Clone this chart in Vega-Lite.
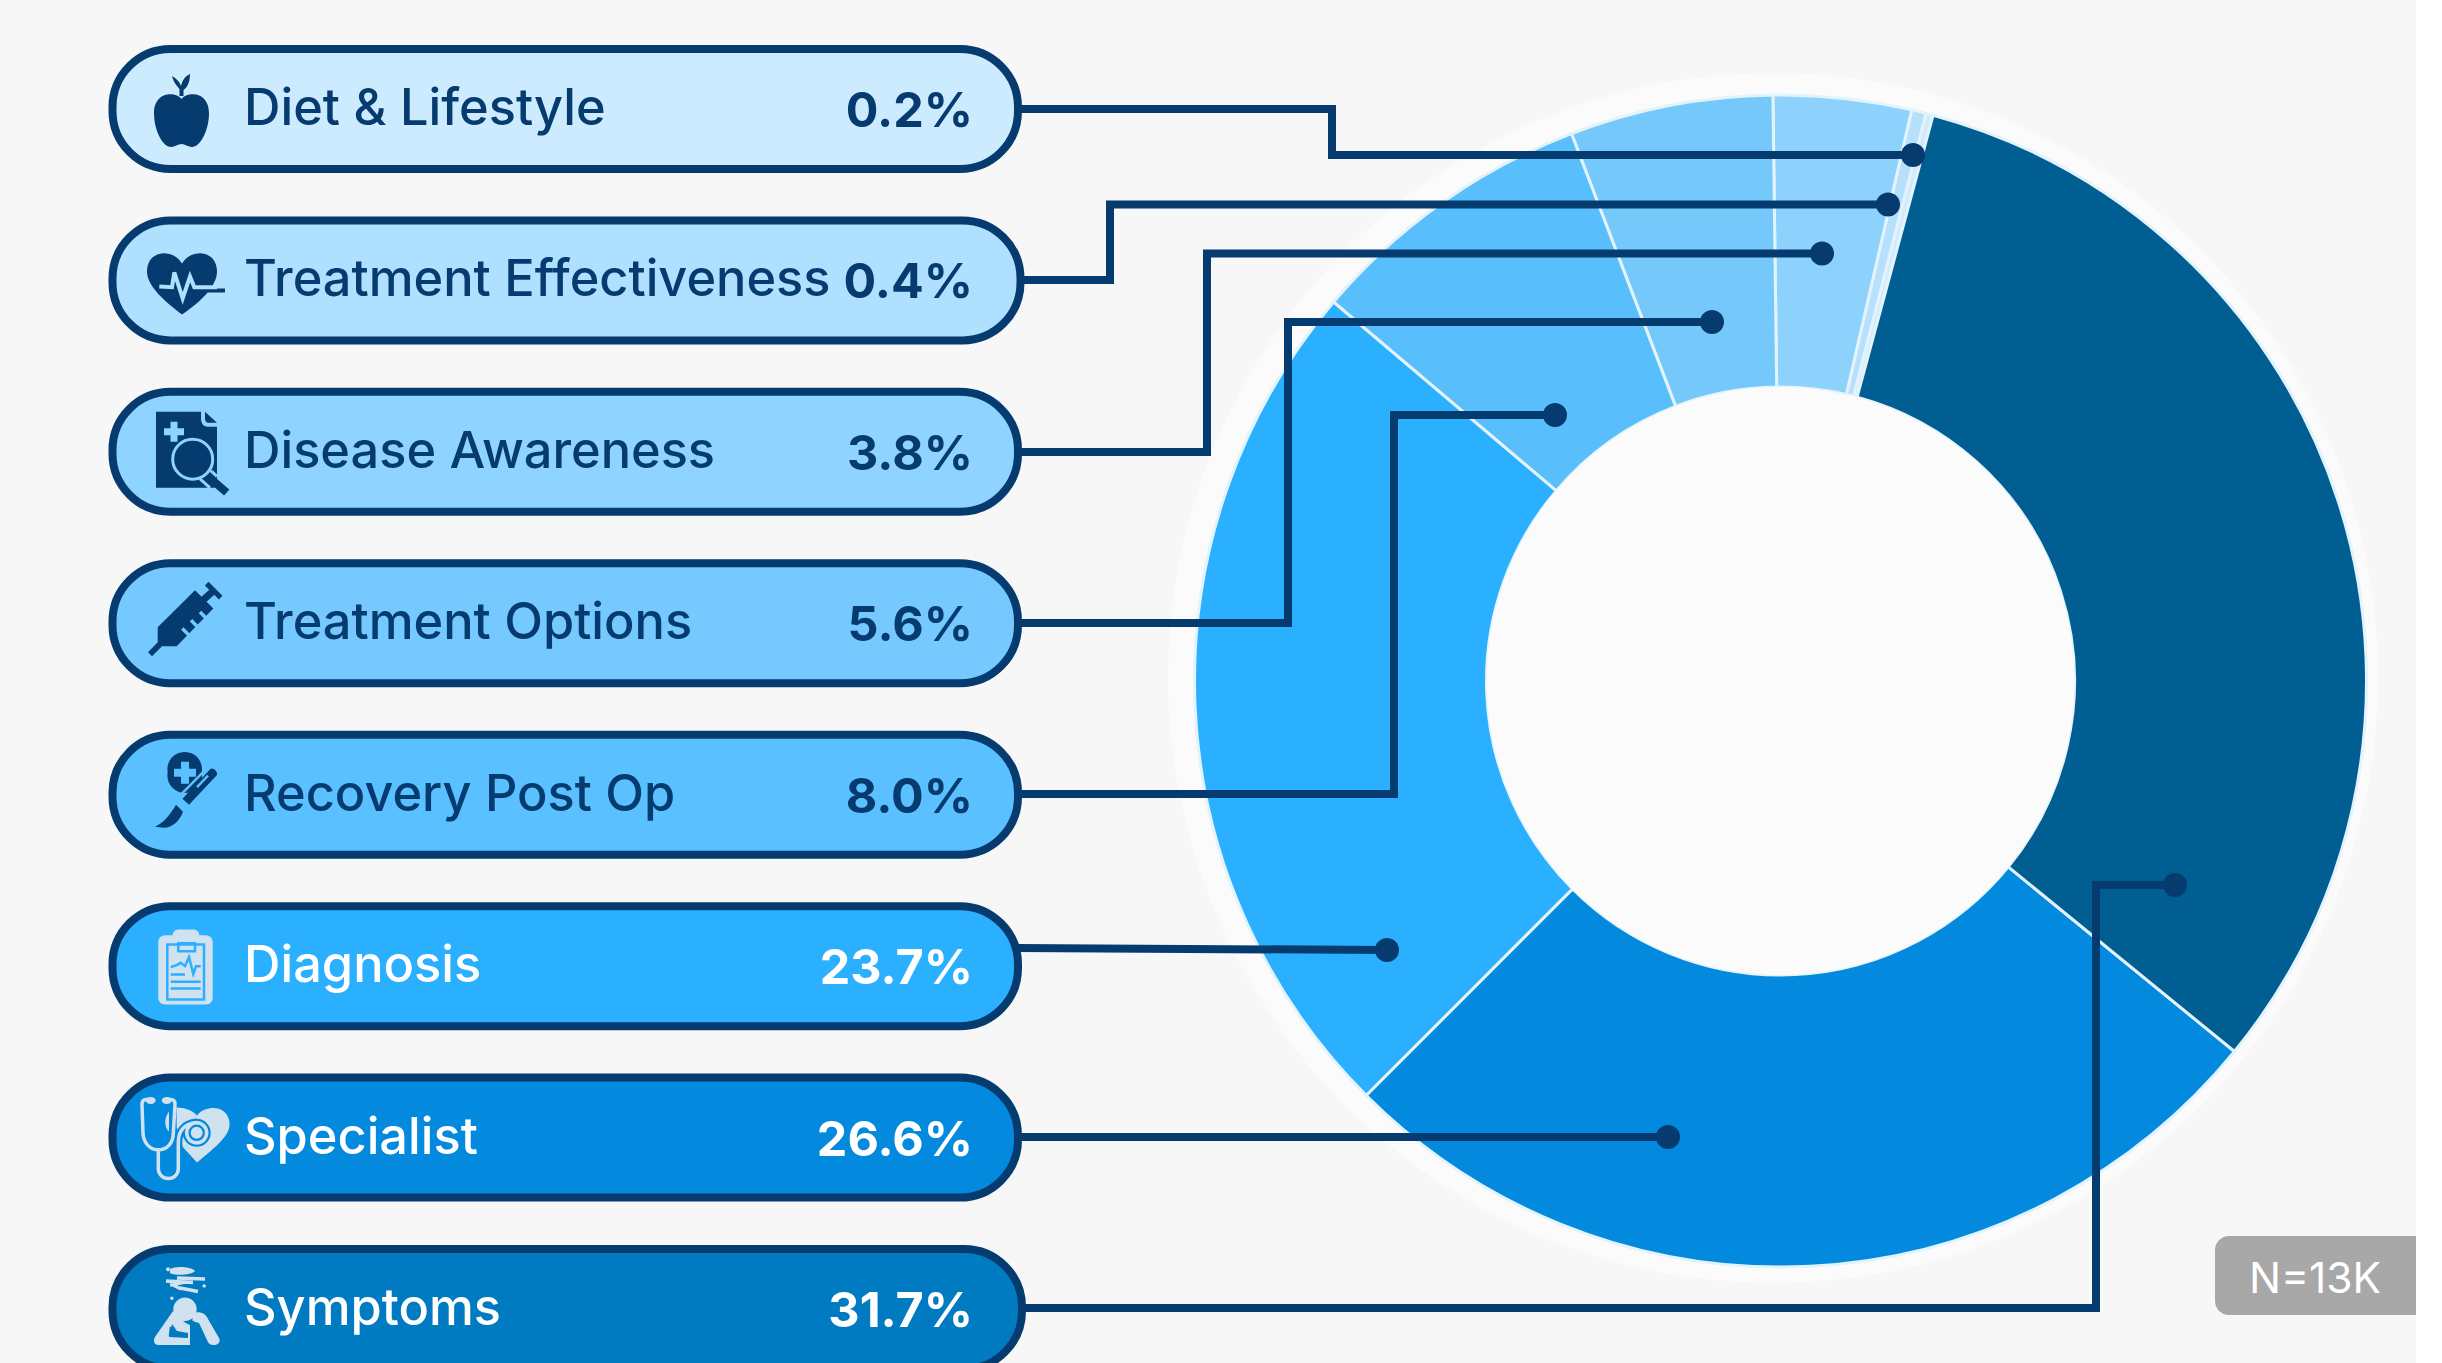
{
  "$schema": "https://vega.github.io/schema/vega-lite/v6.json",
  "width": 2442,
  "height": 1363,
  "padding": 0,
  "autosize": {"type": "none"},
  "background": "#ffffff",
  "config": {"view": {"stroke": null}},
  "datasets": {
    "topics": [
      {"topic": "Diet & Lifestyle", "share": 0.002},
      {"topic": "Treatment Effectiveness", "share": 0.004},
      {"topic": "Disease Awareness", "share": 0.038},
      {"topic": "Treatment Options", "share": 0.056},
      {"topic": "Recovery Post Op", "share": 0.08},
      {"topic": "Diagnosis", "share": 0.237},
      {"topic": "Specialist", "share": 0.266},
      {"topic": "Symptoms", "share": 0.317}
    ],
    "leaders": [
      {"topic": "Diet & Lifestyle", "step": 1, "px": 1015, "py": 109},
      {"topic": "Diet & Lifestyle", "step": 2, "px": 1332, "py": 109},
      {"topic": "Diet & Lifestyle", "step": 3, "px": 1332, "py": 155},
      {"topic": "Diet & Lifestyle", "step": 4, "px": 1913, "py": 155, "anchor": true},
      {"topic": "Treatment Effectiveness", "step": 1, "px": 1015, "py": 280},
      {"topic": "Treatment Effectiveness", "step": 2, "px": 1110, "py": 280},
      {"topic": "Treatment Effectiveness", "step": 3, "px": 1110, "py": 204.5},
      {"topic": "Treatment Effectiveness", "step": 4, "px": 1888, "py": 204.5, "anchor": true},
      {"topic": "Disease Awareness", "step": 1, "px": 1015, "py": 452},
      {"topic": "Disease Awareness", "step": 2, "px": 1207, "py": 452},
      {"topic": "Disease Awareness", "step": 3, "px": 1207, "py": 253.5},
      {"topic": "Disease Awareness", "step": 4, "px": 1822, "py": 253.5, "anchor": true},
      {"topic": "Treatment Options", "step": 1, "px": 1015, "py": 623},
      {"topic": "Treatment Options", "step": 2, "px": 1288, "py": 623},
      {"topic": "Treatment Options", "step": 3, "px": 1288, "py": 322},
      {"topic": "Treatment Options", "step": 4, "px": 1712, "py": 322, "anchor": true},
      {"topic": "Recovery Post Op", "step": 1, "px": 1015, "py": 794},
      {"topic": "Recovery Post Op", "step": 2, "px": 1394, "py": 794},
      {"topic": "Recovery Post Op", "step": 3, "px": 1394, "py": 415},
      {"topic": "Recovery Post Op", "step": 4, "px": 1555, "py": 415, "anchor": true},
      {"topic": "Diagnosis", "step": 1, "px": 1015, "py": 948},
      {"topic": "Diagnosis", "step": 2, "px": 1387, "py": 950, "anchor": true},
      {"topic": "Specialist", "step": 1, "px": 1015, "py": 1137},
      {"topic": "Specialist", "step": 2, "px": 1668, "py": 1137, "anchor": true},
      {"topic": "Symptoms", "step": 1, "px": 1015, "py": 1308},
      {"topic": "Symptoms", "step": 2, "px": 2096, "py": 1308},
      {"topic": "Symptoms", "step": 3, "px": 2096, "py": 885},
      {"topic": "Symptoms", "step": 4, "px": 2175, "py": 885, "anchor": true}
    ]
  },
  "resolve": {"scale": {"y": "independent", "color": "independent"}},
  "layer": [
    {
      "data": {"values": [{}]},
      "mark": {"type": "rect", "fill": "#f7f7f7"},
      "encoding": {
        "x": {"value": 0}, "x2": {"value": 2416},
        "y": {"value": 0}, "y2": {"value": 1363}
      }
    },
    {
      "data": {"values": [{}]},
      "mark": {"type": "arc", "radius": 605, "theta": 0, "theta2": 6.2832, "fill": "#fbfbfb"},
      "encoding": {"x": {"value": 1773}, "y": {"value": 678}}
    },
    {
      "data": {"name": "topics"},
      "mark": {"type": "arc", "radius": 586, "radius2": 294, "stroke": "#e3f3fc", "strokeWidth": 3},
      "encoding": {
        "x": {"value": 1780.5},
        "y": {"value": 681},
        "theta": {
          "field": "share", "type": "quantitative", "stack": true,
          "scale": {"domain": [0, 1], "range": [0.2635, 6.5467]}
        },
        "order": {"field": "share", "sort": "descending"},
        "color": {
          "field": "topic", "type": "nominal", "legend": null,
          "scale": {
            "domain": ["Diet & Lifestyle", "Treatment Effectiveness", "Disease Awareness", "Treatment Options", "Recovery Post Op", "Diagnosis", "Specialist", "Symptoms"],
            "range": ["#cfecff", "#b6e0fb", "#8dd2fc", "#75c9fa", "#58befc", "#2bafff", "#038ade", "#005e93"]
          }
        }
      }
    },
    {
      "data": {"values": [{}]},
      "mark": {"type": "arc", "radius": 294, "theta": 0, "theta2": 6.2832, "fill": "#fbfbfb"},
      "encoding": {"x": {"value": 1780.5}, "y": {"value": 681}}
    },
    {
      "data": {"name": "leaders"},
      "layer": [
        {
          "mark": {"type": "line", "stroke": "#053b6f", "strokeWidth": 8, "strokeJoin": "miter", "strokeCap": "butt"},
          "encoding": {
            "x": {"field": "px", "type": "quantitative", "axis": null, "scale": {"domain": [0, 2442], "nice": false, "zero": false}},
            "y": {"field": "py", "type": "quantitative", "axis": null, "scale": {"domain": [0, 1363], "reverse": true, "nice": false, "zero": false}},
            "detail": {"field": "topic"},
            "order": {"field": "step", "type": "quantitative"}
          }
        },
        {
          "transform": [{"filter": {"field": "anchor", "equal": true}}],
          "mark": {"type": "point", "filled": true, "opacity": 1, "shape": "circle", "size": 576, "color": "#053b6f"},
          "encoding": {
            "x": {"field": "px", "type": "quantitative", "axis": null},
            "y": {"field": "py", "type": "quantitative", "axis": null}
          }
        }
      ]
    },
    {
      "data": {"name": "topics"},
      "resolve": {"scale": {"shape": "independent", "strokeWidth": "independent"}},
      "layer": [
        {
          "transform": [{"filter": {"not": {"field": "topic", "oneOf": ["Treatment Effectiveness", "Symptoms"]}}}],
          "mark": {"type": "bar", "cornerRadius": 58, "stroke": "#053b6f", "strokeWidth": 8, "height": {"band": 0.7}},
          "encoding": {
            "x": {"value": 112.5},
            "x2": {"value": 1018},
            "y": {
              "field": "topic", "type": "nominal", "axis": null,
              "scale": {
                "domain": ["Diet & Lifestyle", "Treatment Effectiveness", "Disease Awareness", "Treatment Options", "Recovery Post Op", "Diagnosis", "Specialist", "Symptoms"],
                "range": [23.3, 1394.7], "paddingInner": 0, "paddingOuter": 0
              }
            },
            "color": {
              "field": "topic", "type": "nominal", "legend": null,
              "scale": {
                "domain": ["Diet & Lifestyle", "Treatment Effectiveness", "Disease Awareness", "Treatment Options", "Recovery Post Op", "Diagnosis", "Specialist", "Symptoms"],
                "range": ["#ccebff", "#b0e0ff", "#8fd3ff", "#75c9ff", "#5ac0ff", "#2bafff", "#038ade", "#007bc2"]
              }
            }
          }
        },
        {
          "transform": [{"filter": {"field": "topic", "equal": "Treatment Effectiveness"}}],
          "mark": {"type": "bar", "cornerRadius": 58, "stroke": "#053b6f", "strokeWidth": 8, "height": {"band": 0.7}},
          "encoding": {
            "x": {"value": 112.5},
            "x2": {"value": 1020.5},
            "y": {"field": "topic", "type": "nominal", "axis": null},
            "color": {"field": "topic", "type": "nominal", "legend": null}
          }
        },
        {
          "transform": [{"filter": {"field": "topic", "equal": "Symptoms"}}],
          "mark": {"type": "bar", "cornerRadius": 58, "stroke": "#053b6f", "strokeWidth": 8, "height": {"band": 0.7}},
          "encoding": {
            "x": {"value": 112.5},
            "x2": {"value": 1022},
            "y": {"field": "topic", "type": "nominal", "axis": null},
            "color": {"field": "topic", "type": "nominal", "legend": null}
          }
        },
        {
          "mark": {"type": "text", "font": "Inter", "fontSize": 50.5, "fontWeight": 500, "align": "left", "baseline": "alphabetic", "dy": 16},
          "encoding": {
            "x": {"value": 244},
            "y": {"field": "topic", "type": "nominal", "axis": null},
            "text": {"field": "topic"},
            "color": {"condition": {"test": {"field": "share", "gt": 0.1}, "value": "#ffffff"}, "value": "#053b6f"}
          }
        },
        {
          "mark": {"type": "text", "font": "Inter", "fontSize": 48.5, "fontWeight": 700, "align": "right", "baseline": "alphabetic", "dy": 18},
          "encoding": {
            "x": {"value": 973},
            "y": {"field": "topic", "type": "nominal", "axis": null},
            "text": {"field": "share", "type": "quantitative", "format": ".1%"},
            "color": {"condition": {"test": {"field": "share", "gt": 0.1}, "value": "#ffffff"}, "value": "#053b6f"}
          }
        },
        {
          "mark": {"type": "point", "filled": true, "opacity": 1, "size": 4, "strokeWidth": 0},
          "encoding": {
            "x": {"value": 186},
            "y": {"field": "topic", "type": "nominal", "axis": null},
            "shape": {
              "field": "topic", "type": "nominal", "legend": null,
              "scale": {
                "domain": ["Diet & Lifestyle", "Treatment Effectiveness", "Disease Awareness", "Treatment Options", "Recovery Post Op", "Diagnosis", "Specialist", "Symptoms"],
                "range": [
                  "M-4.5,-10 C-10,-18 -32,-18 -32,4 C-32,22 -23,38 -15,38 C-11,38 -8,35 -4.5,35 C-1,35 2,38 6,38 C14,38 23,22 23,4 C23,-18 1,-18 -4.5,-10 Z M-6.5,-13 L-6.5,-20 C-10,-24 -13,-28 -14,-33 C-9,-30 -6,-27 -5,-23 C-4,-28 -1,-33 4,-35 C4,-28 2,-22 -2.5,-19 L-2.5,-13 Z",
                  "M-4,34 C-20,22 -39,6 -39,-9 C-39,-30 -14,-33 -4,-17 C6,-33 31,-30 31,-9 C31,6 14,22 -4,34 Z M20,8 L39,8 L39,12 L20,12 Z",
                  "M-30,-40 L15,-40 L15,-33 C15,-28 18,-25 22,-25 L31,-25 L31,36 L-30,36 Z M19,-40 L31,-29 L23,-29 C20,-29 19,-31 19,-34 Z M22.6,20 L43.3,37.7 L38.1,43.7 L17.4,26 Z",
                  "M-28.3,4 L9,-33 L27.3,-14.7 L-9.3,23 L-24,23 L-34,33 L-38,29 L-28.3,19 Z M25,-35 L30,-30 L20.5,-21.5 L15.5,-26.5 Z M22.5,-41.5 L36.5,-27.5 L32.9,-23.9 L18.9,-37.9 Z",
                  "M-18.3,-22.3 A17.3,17.3 0 1 1 15.7,-22.3 A17.3,17.3 0 1 1 -18.3,-22.3 Z M24.1,-25.5 C27,-28 33,-22 30.5,-19.1 L3,10 L-3.5,4 Z M-10,10 L-3,17 C-6,26 -14,33 -22,33 L-31,32 C-22,28 -16,20 -10,10 Z",
                  "M-20.7,-31 L19.7,-31 C24,-31 26.7,-28 26.7,-24 L26.7,31.3 C26.7,35.5 24,38.3 19.7,38.3 L-20.7,38.3 C-25,38.3 -27.7,35.5 -27.7,31.3 L-27.7,-24 C-27.7,-28 -25,-31 -20.7,-31 Z M-7,-36.7 L7,-36.7 C11,-36.7 13.3,-34 13.3,-31 C13.3,-27 11,-25 7,-25 L-7,-25 C-11,-25 -13.3,-27 -13.3,-31 C-13.3,-34 -11,-36.7 -7,-36.7 Z",
                  "M-9.5,-30 C-1,-30 7,-27 11,-22 C16,-29 26,-30.5 32,-29 C40,-27 44,-20 43.5,-12 C43,0 24,14 11,25 L-3,9.7 L-9.3,-10 Z M-17,-26 C-22,-20 -22,-10 -17,-6 Z M-40.3,-37 A5,3.5 0 1 1 -30.3,-37 A5,3.5 0 1 1 -40.3,-37 Z M-24.3,-37 A5,3.5 0 1 1 -14.3,-37 A5,3.5 0 1 1 -24.3,-37 Z",
                  "M-12.7,0.3 A11.7,11.7 0 1 1 10.7,0.3 A11.7,11.7 0 1 1 -12.7,0.3 Z M-13,2 C-8,8 -2,14 4,16 L4,36 L-28,36 C-32,36 -33,32 -31,28 Z M8,4 C14,2 20,5 22,10 L33,29 C35,33 32,36 28,36 C24,36 22,34 21,31 L13,14 L6,12 Z M-16,-40 C-12,-43 5,-43 9,-38 C7,-34 -12,-33 -16,-36 Z M-20,-39.7 A2,2 0 1 1 -16,-39.7 A2,2 0 1 1 -20,-39.7 Z M16.5,-23 A1.7,1.7 0 1 1 19.9,-23 A1.7,1.7 0 1 1 16.5,-23 Z M-15.8,-10.7 A1.7,1.7 0 1 1 -12.4,-10.7 A1.7,1.7 0 1 1 -15.8,-10.7 Z"
                ]
              }
            },
            "color": {"condition": {"test": {"field": "share", "gt": 0.1}, "value": "#d0e1f0"}, "value": "#053b6f"}
          }
        },
        {
          "transform": [{"filter": {"field": "topic", "oneOf": ["Disease Awareness", "Recovery Post Op", "Symptoms"]}}],
          "mark": {"type": "point", "filled": true, "opacity": 1, "size": 4, "strokeWidth": 0},
          "encoding": {
            "x": {"value": 186},
            "y": {"field": "topic", "type": "nominal", "axis": null},
            "shape": {
              "field": "topic", "type": "nominal", "legend": null,
              "scale": {
                "domain": ["Disease Awareness", "Recovery Post Op", "Symptoms"],
                "range": [
                  "M-15.5,-30 L-8.5,-30 L-8.5,-23.5 L-2,-23.5 L-2,-16.5 L-8.5,-16.5 L-8.5,-10 L-15.5,-10 L-15.5,-16.5 L-22,-16.5 L-22,-23.5 L-15.5,-23.5 Z",
                  "M-5,-33 L3,-33 L3,-26 L10,-26 L10,-18 L3,-18 L3,-11 L-5,-11 L-5,-18 L-12,-18 L-12,-26 L-5,-26 Z",
                  "M-14,15 L-9,22 L2,24 L2,29 L-17,28 Z"
                ]
              }
            },
            "color": {"field": "topic", "type": "nominal", "legend": null}
          }
        },
        {
          "transform": [{"filter": {"field": "topic", "oneOf": ["Treatment Effectiveness", "Disease Awareness", "Treatment Options", "Recovery Post Op", "Diagnosis", "Specialist", "Symptoms"]}}],
          "mark": {"type": "point", "filled": false, "opacity": 1, "size": 4},
          "encoding": {
            "x": {"value": 186},
            "y": {"field": "topic", "type": "nominal", "axis": null},
            "shape": {
              "field": "topic", "type": "nominal", "legend": null,
              "scale": {
                "domain": ["Treatment Effectiveness", "Disease Awareness", "Treatment Options", "Recovery Post Op", "Diagnosis", "Specialist", "Symptoms"],
                "range": [
                  "M-26.7,6 L-14,6.7 L-11.7,-8 L-3.3,18 L4,-4 L8.3,6.7 L31,6.7",
                  "M-13.3,7.3 A20,20 0 1 1 26.7,7.3 A20,20 0 1 1 -13.3,7.3 Z M25,19 L31,24.5 M14,27 L24,36",
                  "M21,-4.3 L14,-11.3 M12,4 L5,-3 M3.3,12.3 L-3.7,5.3",
                  "M22,-27.5 L-10,5 M22,-19 L11,-7.5 M-8.5,5 L2,13.5",
                  "M-18.7,-21.7 L18,-21.7 L18,33.3 L-18.7,33.3 Z M-7.7,-23 L9,-23 L9,-15 L-7.7,-15 Z M-15.3,1 L-9.3,-1 L-5.3,-3.3 L-1,0 L3,-9 L7.3,7.7 L10,0 L14.7,0 M-15.3,8.3 L-1,8.3 M-15.3,15.7 L14.7,15.7 M-15.3,22.3 L14.7,22.3",
                  "M-7.7,20 L-7.7,5 C-7.7,-5 -3,-14 10.7,-15 M0.7,-4.7 A10,10 0 1 1 20.7,-4.7 A10,10 0 1 1 0.7,-4.7 Z",
                  "M-16,27 L-15,18 M6,12 L21,36"
                ]
              }
            },
            "strokeWidth": {
              "field": "topic", "type": "ordinal", "legend": null,
              "scale": {
                "type": "ordinal",
                "domain": ["Treatment Effectiveness", "Disease Awareness", "Treatment Options", "Recovery Post Op", "Diagnosis", "Specialist", "Symptoms"],
                "range": [4, 3, 3.5, 2.5, 2.5, 8, 2.5]
              }
            },
            "color": {"field": "topic", "type": "nominal", "legend": null}
          }
        },
        {
          "transform": [{"filter": {"field": "topic", "oneOf": ["Specialist", "Symptoms"]}}],
          "mark": {"type": "point", "filled": false, "opacity": 1, "size": 4, "strokeWidth": 3.5, "color": "#d0e1f0"},
          "encoding": {
            "x": {"value": 186},
            "y": {"field": "topic", "type": "nominal", "axis": null},
            "shape": {
              "field": "topic", "type": "nominal", "legend": null,
              "scale": {
                "domain": ["Specialist", "Symptoms"],
                "range": [
                  "M-36,-38 L-40,-38 C-43,-38 -44,-36 -44,-33 L-43,-4 C-42,6 -36,12 -27.7,12.3 C-19,12 -13,6 -12.7,-4 L-11,-33 C-11,-36 -12,-38 -15,-38 L-19,-38 M-27.7,12 L-27.7,31 C-27.7,37 -23,41 -17.7,41 C-12,41 -7.7,37 -7.7,31 L-7.7,5 C-7.7,-5 -3,-14 10.7,-15 M0.7,-4.7 A10,10 0 1 1 20.7,-4.7 A10,10 0 1 1 0.7,-4.7 Z",
                  "M-9,-31 L19,-30 M-20,-28 L7,-26.5 M-16,-24 L-1,-27 M-15,-25 L-5,-20 M-6,-21 L12,-17.5"
                ]
              }
            }
          }
        }
      ]
    },
    {
      "data": {"values": [{"sample": "N=13K"}]},
      "layer": [
        {
          "mark": {"type": "rect", "fill": "#a8a8a8", "cornerRadiusTopLeft": 14, "cornerRadiusBottomLeft": 14},
          "encoding": {
            "x": {"value": 2215}, "x2": {"value": 2416},
            "y": {"value": 1236}, "y2": {"value": 1315}
          }
        },
        {
          "mark": {"type": "text", "font": "Inter", "fontSize": 42.5, "fontWeight": 400, "align": "center", "baseline": "alphabetic", "color": "#ffffff"},
          "encoding": {
            "x": {"value": 2315},
            "y": {"value": 1293},
            "text": {"field": "sample"}
          }
        }
      ]
    }
  ]
}
